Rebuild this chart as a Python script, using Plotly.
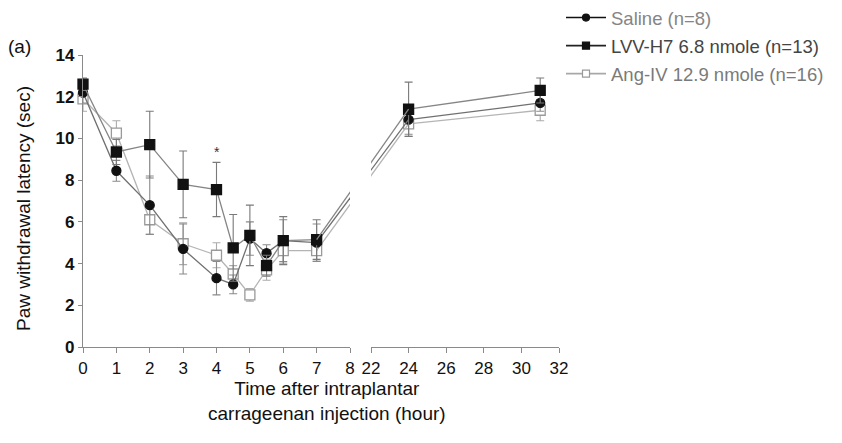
import plotly.graph_objects as go

# Sampling times (hours after carrageenan injection)
times = [0, 1, 2, 3, 4, 4.5, 5, 5.5, 6, 7, 24, 31]

# Paw withdrawal latency (sec), mean and SEM per group
saline = [12.2, 8.45, 6.8, 4.7, 3.3, 3.0, 5.2, 4.5, 5.1, 5.0, 10.9, 11.7]
saline_sem = [0.5, 0.5, 1.4, 1.2, 0.8, 0.45, 0.8, 0.4, 1.0, 0.9, 0.7, 0.4]

lvv = [12.6, 9.35, 9.7, 7.8, 7.55, 4.75, 5.35, 3.9, 5.1, 5.15, 11.4, 12.3]
lvv_sem = [0.3, 0.6, 1.6, 1.6, 1.3, 1.6, 1.45, 0.5, 1.15, 0.95, 1.3, 0.6]

angiv = [11.9, 10.25, 6.1, 4.95, 4.4, 3.5, 2.5, 3.7, 4.62, 4.62, 10.7, 11.35]
angiv_sem = [0.6, 0.6, 0.7, 1.0, 0.6, 0.4, 0.3, 0.5, 0.6, 0.5, 0.6, 0.5]

series_names = ["Saline (n=8)", "LVV-H7 6.8 nmole (n=13)", "Ang-IV 12.9 nmole (n=16)"]

y_ticks = [0, 2, 4, 6, 8, 10, 12, 14]
x_ticks_early = [0, 1, 2, 3, 4, 5, 6, 7, 8]
x_ticks_late = [22, 24, 26, 28, 30, 32]

W, H = 842, 443
FONT = "Liberation Sans, Arial, sans-serif"
AXIS_COLOR = "#8a8a8a"

# Broken time axis: early segment 0-8 h, late segment 22-32 h
range_early = [0, 8]
range_late = [22, 32]
dom_early_px = [83, 350]
dom_late_px = [371, 559]
y_dom_px = [347, 55]  # pixel rows of y=0 and y=14


def to_px(t, rng, dom):
    return dom[0] + (t - rng[0]) / (rng[1] - rng[0]) * (dom[1] - dom[0])


def from_px(p, rng, dom):
    return rng[0] + (p - dom[0]) / (dom[1] - dom[0]) * (rng[1] - rng[0])


def px_of_time(t):
    return to_px(t, range_early, dom_early_px) if t <= range_early[1] else to_px(t, range_late, dom_late_px)


early_idx = [i for i, t in enumerate(times) if t <= range_early[1]]
late_idx = [i for i, t in enumerate(times) if t >= range_late[0]]
last_early, first_late = early_idx[-1], late_idx[0]

# Gap segment drawn straight across the break, expressed in each segment's units
p_a, p_b = px_of_time(times[last_early]), px_of_time(times[first_late])
bridge_early_x = [times[last_early], from_px(p_b, range_early, dom_early_px)]
bridge_late_x = [from_px(p_a, range_late, dom_late_px), times[first_late]]

styles = [
    dict(vals=saline, sem=saline_sem, symbol="circle", size=9, fill="#111111",
         edge="#111111", line="#707070", legend_line="#111111", err="#8a8a8a",
         text_color="#858585"),
    dict(vals=lvv, sem=lvv_sem, symbol="square", size=10, fill="#111111",
         edge="#111111", line="#858585", legend_line="#222222", err="#7a7a7a",
         text_color="#444444"),
    dict(vals=angiv, sem=angiv_sem, symbol="square", size=10, fill="#ffffff",
         edge="#9a9a9a", line="#b4b4b4", legend_line="#a8a8a8", err="#ababab",
         text_color="#7a7a7a"),
]

fig = go.Figure()

draw_order = [2, 0, 1]
for k in draw_order:
    s = styles[k]
    vals, sem = s["vals"], s["sem"]
    for idx, xa in [(early_idx, "x"), (late_idx, "x2")]:
        fig.add_trace(go.Scatter(
            x=[times[i] for i in idx], y=[vals[i] for i in idx],
            xaxis=xa, yaxis="y", mode="lines+markers", cliponaxis=False,
            line=dict(color=s["line"], width=1.3),
            marker=dict(symbol=s["symbol"], size=s["size"], color=s["fill"],
                        line=dict(color=s["edge"], width=1.3)),
            error_y=dict(type="data", array=[sem[i] for i in idx], color=s["err"],
                         thickness=1.1, width=4),
            showlegend=False, hoverinfo="x+y",
        ))
    # connecting segments across the axis break
    for bx, xa in [(bridge_early_x, "x"), (bridge_late_x, "x2")]:
        fig.add_trace(go.Scatter(
            x=bx, y=[vals[last_early], vals[first_late]], xaxis=xa, yaxis="y",
            mode="lines", line=dict(color=s["line"], width=1.3),
            showlegend=False, hoverinfo="skip",
        ))

# Legend entries
for k in range(3):
    s = styles[k]
    fig.add_trace(go.Scatter(
        x=[None], y=[None], mode="lines+markers",
        name=f"<span style='color:{s['text_color']}'>{series_names[k]}</span>",
        legendgroup=f"g{k}",
        line=dict(color=s["legend_line"], width=1.6),
        marker=dict(symbol=s["symbol"], size=7, color=s["fill"],
                    line=dict(color=s["edge"], width=1.2)),
    ))

paper_x = lambda p: p / W
paper_y = lambda p: (H - p) / H

fig.update_layout(
    width=W, height=H,
    margin=dict(l=0, r=0, t=0, b=0, autoexpand=False),
    paper_bgcolor="white", plot_bgcolor="white",
    font=dict(family=FONT, color="#111111"),
    showlegend=True,
    legend=dict(
        x=paper_x(561), y=paper_y(-1), xanchor="left", yanchor="top",
        font=dict(size=18.5, color="#666666", family=FONT),
        traceorder="grouped", tracegroupgap=1,
        bgcolor="rgba(0,0,0,0)", itemwidth=40,
    ),
    xaxis=dict(
        domain=[paper_x(dom_early_px[0]), paper_x(dom_early_px[1])],
        range=range_early, anchor="y", automargin=False,
        tickvals=x_ticks_early, ticks="outside", ticklen=5, tickwidth=1,
        tickcolor=AXIS_COLOR, showline=True, linecolor=AXIS_COLOR, linewidth=1.2,
        showgrid=False, zeroline=False,
        tickfont=dict(size=17, family=FONT, color="#111111"),
    ),
    xaxis2=dict(
        domain=[paper_x(dom_late_px[0]), paper_x(dom_late_px[1])],
        range=range_late, anchor="y", automargin=False,
        tickvals=x_ticks_late, ticks="outside", ticklen=5, tickwidth=1,
        tickcolor=AXIS_COLOR, showline=True, linecolor=AXIS_COLOR, linewidth=1.2,
        showgrid=False, zeroline=False,
        tickfont=dict(size=17, family=FONT, color="#111111"),
    ),
    yaxis=dict(
        domain=[paper_y(y_dom_px[0]), paper_y(y_dom_px[1])],
        range=[0, 14], anchor="x", automargin=False,
        tickvals=y_ticks, ticks="outside", ticklen=4, tickwidth=1,
        tickcolor=AXIS_COLOR, showline=True, linecolor=AXIS_COLOR, linewidth=1.2,
        showgrid=False, zeroline=False,
        tickfont=dict(size=17, family=FONT, color="#111111", weight="bold"),
    ),
)

annotations = [
    dict(text="Paw withdrawal latency (sec)", x=paper_x(23), y=paper_y(209),
         xref="paper", yref="paper", xanchor="center", yanchor="middle",
         textangle=-90, showarrow=False,
         font=dict(size=19, family=FONT, color="#111111")),
    dict(text="Time after intraplantar<br>carrageenan injection (hour)",
         x=paper_x(327), y=paper_y(401), xref="paper", yref="paper",
         xanchor="center", yanchor="middle",
         showarrow=False, font=dict(size=19, family=FONT, color="#111111"),
         align="center"),
    dict(text="(a)", x=paper_x(6), y=paper_y(46), xref="paper", yref="paper",
         xanchor="left", yanchor="middle", showarrow=False,
         font=dict(size=19, family=FONT, color="#111111")),
    dict(text="*", x=4, y=9.35, xref="x", yref="y", showarrow=False,
         font=dict(size=14, family=FONT, color="#333333")),
]
fig.update_layout(annotations=annotations)

fig.write_html("out.html")
